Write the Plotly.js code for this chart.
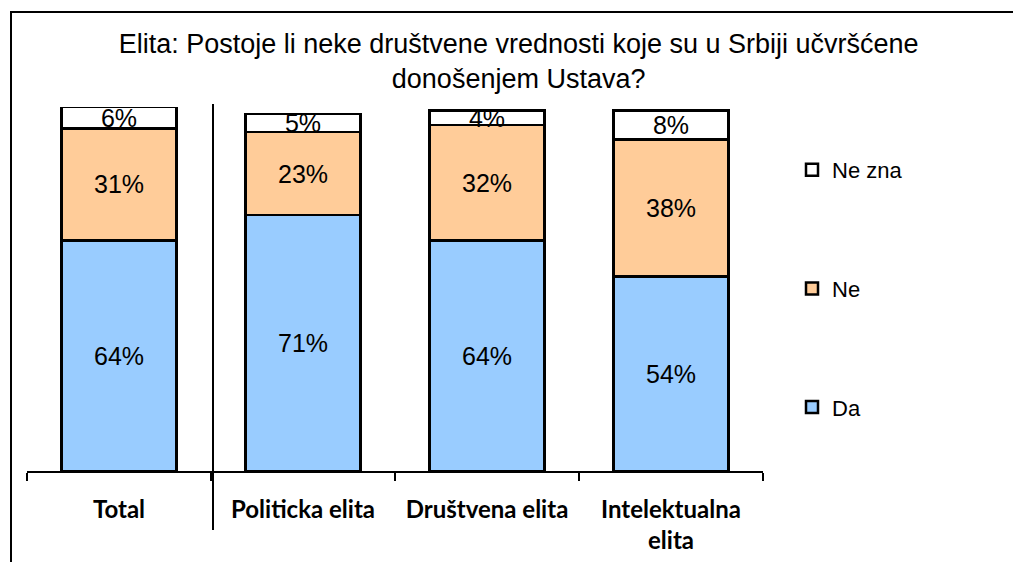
<!DOCTYPE html>
<html>
<head>
<meta charset="utf-8">
<script src="https://cdn.plot.ly/plotly-3.0.1.min.js"></script>
<style>html,body{margin:0;padding:0;background:#fff;}#chart{width:1013px;height:562px;}</style>
</head>
<body>
<div id="chart"></div>
<script>
var categories = ['Total', 'Politicka elita', 'Društvena elita', 'Intelektualna elita'];
var tickLabels = ['Total', 'Politicka elita', 'Društvena elita', 'Intelektualna<br>elita'];
var seriesNames = ['Da', 'Ne', 'Ne zna'];
var da = [64, 71, 64, 54];
var ne = [31, 23, 32, 38];
var neZna = [6, 5, 4, 8];
var colors = ['#99CCFF', '#FFCC99', '#FFFFFF'];
var legendRanks = [3, 2, 1];

var values = [da, ne, neZna];
var traces = values.map(function (v, i) {
  return {
    type: 'bar',
    name: seriesNames[i],
    legendgroup: seriesNames[i],
    legendrank: legendRanks[i],
    x: categories,
    y: v,
    marker: {color: colors[i], line: {color: '#000', width: 2.5}},
    texttemplate: '%{y}%',
    textposition: 'inside',
    insidetextanchor: 'middle',
    constraintext: 'none',
    textangle: 0,
    textfont: {family: 'Liberation Sans, Arial, sans-serif', size: 25, color: '#000'},
    hoverinfo: 'none'
  };
});

var L = 27, R = 763, T = 107, B = 471;
var W = R - L, H = B - T;
function px(x) { return (x - L) / W; }
function py(y) { return (B - y) / H; }

var layout = {
  width: 1013, height: 562,
  margin: {l: L, r: 1013 - R, t: T, b: 562 - B, pad: 0},
  paper_bgcolor: '#fff', plot_bgcolor: '#fff',
  barmode: 'stack',
  bargap: 0.375,
  showlegend: true,
  title: {
    text: 'Elita: Postoje li neke društvene vrednosti koje su u Srbiji učvršćene<br>donošenjem Ustava?',
    font: {family: 'Liberation Sans, Arial, sans-serif', size: 27, color: '#000'},
    x: 0.512, xanchor: 'center', xref: 'container',
    y: 0.905, yanchor: 'top', yref: 'container'
  },
  xaxis: {
    type: 'category',
    range: [-0.5, 3.5],
    tickmode: 'array',
    tickvals: categories,
    ticktext: tickLabels,
    tickson: 'boundaries',
    ticks: 'outside', ticklen: 8, tickwidth: 2, tickcolor: '#000',
    ticklabelstandoff: 16,
    showline: true, linecolor: '#000', linewidth: 2,
    showgrid: false, zeroline: false,
    tickfont: {family: 'Lato, Carlito, Calibri, sans-serif', size: 24, color: '#000', weight: 'bold'},
    fixedrange: true
  },
  yaxis: {
    range: [0, 101],
    visible: false, showgrid: false, zeroline: false,
    fixedrange: true
  },
  legend: {
    x: px(792), xanchor: 'left',
    y: py(149), yanchor: 'top',
    traceorder: 'grouped',
    tracegroupgap: 87,
    font: {family: 'Liberation Sans, Arial, sans-serif', size: 22, color: '#000'},
    bgcolor: 'rgba(0,0,0,0)'
  },
  shapes: [
    {type: 'rect', xref: 'paper', yref: 'paper', x0: px(11), x1: px(1030), y0: py(590), y1: py(12),
     line: {color: '#000', width: 2}, fillcolor: 'rgba(0,0,0,0)'},
    {type: 'line', xref: 'paper', yref: 'paper', x0: px(213), x1: px(213), y0: py(104), y1: py(530),
     line: {color: '#000', width: 2}}
  ]
};

Plotly.newPlot('chart', traces, layout, {displayModeBar: false, staticPlot: true});
</script>
</body>
</html>
